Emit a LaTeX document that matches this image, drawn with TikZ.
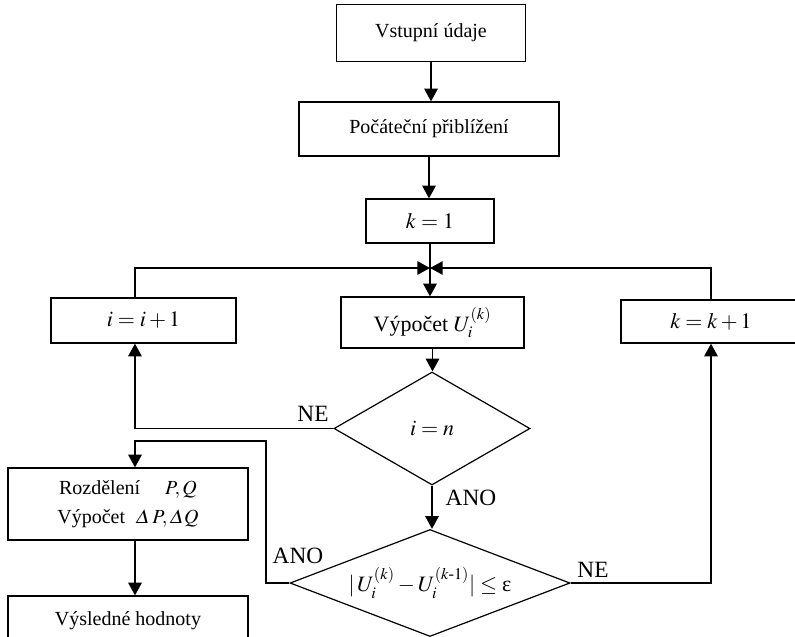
\documentclass[tikz,border=0pt]{standalone}
\usepackage{amsmath}
\usepackage{mathptmx}
\usepackage{fontspec}
\setmainfont{Liberation Serif}
\usetikzlibrary{arrows.meta, shapes.geometric}
\tikzset{
    >={Triangle[length=9.5pt, width=10pt]}, % plne sipky
    blok/.style={draw, line width=0.9pt, inner sep=2pt, font=\fontsize{15}{22}\selectfont}, % obdelniky
    vetsi/.style={font=\fontsize{16.5}{19}\selectfont}, % vetsi pismo v prostredni rade
    podminka/.style={draw, diamond, aspect=2.6, inner sep=0pt, line width=0.9pt, font=\fontsize{16.5}{19}\selectfont}, % rozhodovani
    spoj/.style={line width=1.3pt}, % spojnice
    popis/.style={font=\fontsize{17.5}{19}\selectfont, inner sep=0pt}, % ANO / NE
}

\begin{document}
\begin{tikzpicture}
                [x=0.75pt, y=-0.75pt]
                \useasboundingbox (0,0) rectangle (795,636);
                % Bloky
                \node[blok, minimum width=141.75pt, minimum height=42.75pt] (vst) at (431,33) {Vstupní údaje};
                \node[blok, minimum width=195pt, minimum height=40.5pt] (poc) at (429,129) {Počáteční přiblížení};
                \node[blok, vetsi, minimum width=96pt, minimum height=33pt] (k1) at (430,221) {$k = 1$};
                \node[blok, vetsi, minimum width=137.25pt, minimum height=38.25pt] (vyp) at (432.5,322.5) {Výpočet $U_i^{(k)}$};
                \node[blok, vetsi, minimum width=138.75pt, minimum height=33.75pt] (inci) at (143.5,320.5) {$i = i + 1$};
                \node[blok, vetsi, minimum width=135pt, minimum height=32.25pt] (inck) at (711,321.5) {$k = k + 1$};
                \node[podminka, minimum width=147pt, minimum height=84.75pt] (d1) at (432,428.5) {$i = n$};
                \node[podminka, minimum width=210pt, minimum height=80.25pt] (d2) at (430,583) {$|\,U_i^{(k)} - U_i^{(k\text{-}1)}| \le \text{ε}$};
                \node[blok, minimum width=180pt, minimum height=54pt, align=center] (rozd) at (128,504)
                    {Rozdělení \quad$P, Q$\\ Výpočet \;$\varDelta\,P, \varDelta Q$};
                \node[blok, minimum width=180pt, minimum height=37.5pt] (vysl) at (128,621) {Výsledné hodnoty};

                % Popisy vetveni
                \node[popis] (ne1) at (313,414) {NE};
                \node[popis] (ano1) at (471,498) {ANO};
                \node[popis] (ano2) at (298,556) {ANO};
                \node[popis] (ne2) at (593,570) {NE};

                % Spojnice
                \coordinate (uzel) at (430,268);
                \coordinate (ohyb) at (266,441);
                \draw[spoj, ->] (vst.south) -- (vst.south |- poc.north);
                \draw[spoj, ->] (poc.south) -- (poc.south |- k1.north);
                \draw[spoj, ->] (k1.south) -- (k1.south |- vyp.north);
                \draw[spoj, ->] ([xshift=-6.4pt]inci.north) |- (uzel);
                \draw[spoj, ->] (inck.north) |- (uzel);
                \draw[spoj, ->] (vyp.south) -- (vyp.south |- d1.north);
                \draw[spoj, ->] (d1.west) -| ([xshift=-6.4pt]inci.south);
                \draw[spoj, ->] (d1.south) -- (d1.south |- d2.north);
                \draw[spoj, ->] (d2.east) -| (inck.south);
                \draw[spoj, ->] (d2.west) -| (ohyb) -| ([xshift=5.25pt]rozd.north);
                \draw[spoj, ->] ([xshift=5.25pt]rozd.south) -- ([xshift=5.25pt]vysl.north);
            \end{tikzpicture}
\end{document}
